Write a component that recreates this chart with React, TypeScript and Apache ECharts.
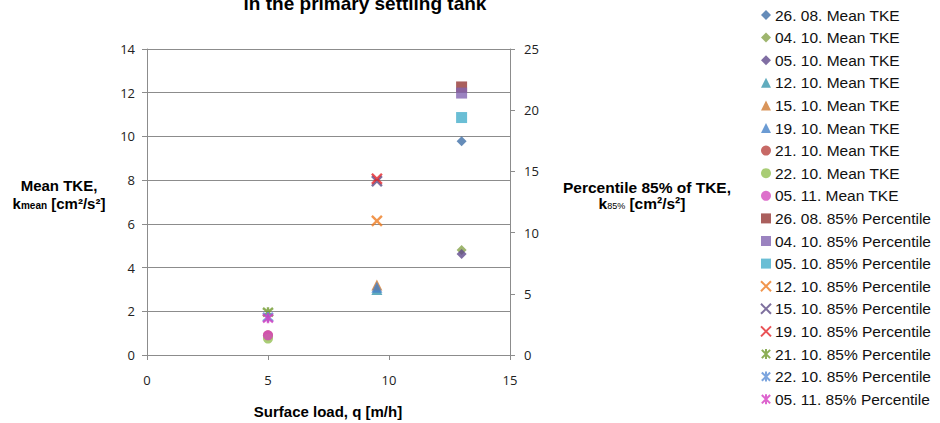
import React, { useEffect, useRef } from "react";
import * as echarts from "echarts";

// ---- data ----
const dates = ["26. 08.", "04. 10.", "05. 10.", "12. 10.", "15. 10.", "19. 10.", "21. 10.", "22. 10.", "05. 11."];
const surfaceLoad = [13, 13, 13, 9.5, 9.5, 9.5, 5, 5, 5];
const meanTKE = [9.78, 4.8, 4.62, 3.0, 3.2, 3.1, 0.9, 0.75, 0.9];
const percentile85 = [21.9, 21.4, 19.4, 10.95, 14.2, 14.4, 3.5, 3.1, 3.0];

const xAxisRange = { min: 0, max: 15, interval: 5 };
const leftAxisRange = { min: 0, max: 14, interval: 2 };
const rightAxisRange = { min: 0, max: 25, interval: 5 };

const titleText = "in the primary settling tank";
const xAxisTitle = "Surface load, q [m/h]";

// ---- styles ----
const X_PATH = "path://M0,0L10,10M10,0L0,10";
const STAR_PATH = "path://M0,0L10,10M10,0L0,10M5,-1L5,11";

const meanSymbols = ["diamond", "diamond", "diamond", "triangle", "triangle", "triangle", "circle", "circle", "circle"];
const meanColors = ["#3F6FA8", "#86A34A", "#604A8C", "#3A97AE", "#D07A32", "#4682C8", "#B94440", "#93C152", "#D44CBE"];
const meanSizes = [10, 10, 10, 11, 11, 11, 10, 10, 10];

const pctSymbols = ["rect", "rect", "rect", X_PATH, X_PATH, X_PATH, STAR_PATH, STAR_PATH, STAR_PATH];
const pctColors = ["#953735", "#8264B0", "#45AECA", "#EE7C22", "#5E4C86", "#E4252A", "#6F9A2C", "#5B8FD6", "#D43DC2"];
const pctSizes = [11, 11, 11, 10, 10, 10, 10, 10, 10];

const FONT = "'Liberation Sans', Arial, sans-serif";
const TICK_FONT = "'Open Sans', 'Noto Sans', sans-serif";

export default function App() {
  const ref = useRef<HTMLDivElement>(null);

  useEffect(() => {
    if (!ref.current) return;
    const chart = echarts.init(ref.current, undefined, { renderer: "svg" });

    const series: any[] = [];
    dates.forEach((d, i) => {
      series.push({
        name: `${d} Mean TKE`,
        type: "scatter",
        xAxisIndex: 0,
        yAxisIndex: 0,
        symbol: meanSymbols[i],
        symbolSize: meanSizes[i],
        itemStyle: { color: meanColors[i] },
        data: [[surfaceLoad[i], meanTKE[i]]],
      });
    });
    dates.forEach((d, i) => {
      const stroked = i >= 3;
      series.push({
        name: `${d} 85% Percentile`,
        type: "scatter",
        xAxisIndex: 0,
        yAxisIndex: 1,
        symbol: pctSymbols[i],
        symbolSize: pctSizes[i],
        itemStyle: stroked
          ? { color: pctColors[i], borderColor: pctColors[i], borderWidth: 2.4 }
          : { color: pctColors[i] },
        data: [[surfaceLoad[i], percentile85[i]]],
      });
    });

    const axisLine = { show: true, lineStyle: { color: "#8C8C8C", width: 1 } };
    const axisTick = { show: true, length: 5, inside: false, lineStyle: { color: "#8C8C8C" } };
    const axisLabel = { color: "#222", fontSize: 13, fontFamily: TICK_FONT };

    chart.setOption({
      animation: false,
      backgroundColor: "#fff",
      grid: { left: 147, right: 430, top: 49, bottom: 68, containLabel: false },
      xAxis: {
        type: "value",
        ...xAxisRange,
        axisLine,
        axisTick,
        splitLine: { show: false },
        axisLabel: { ...axisLabel, margin: 18 },
      },
      yAxis: [
        {
          type: "value",
          position: "left",
          ...leftAxisRange,
          axisLine,
          axisTick,
          splitLine: { show: true, lineStyle: { color: "#8C8C8C", width: 1 } },
          axisLabel: { ...axisLabel, margin: 12 },
        },
        {
          type: "value",
          position: "right",
          ...rightAxisRange,
          axisLine,
          axisTick,
          splitLine: { show: false },
          axisLabel: { ...axisLabel, margin: 14 },
        },
      ],
      legend: {
        orient: "vertical",
        left: 755,
        top: 2,
        itemWidth: 10,
        itemHeight: 10,
        itemGap: 6.6,
        textStyle: { fontSize: 15.5, fontFamily: FONT, color: "#111", padding: [1, 0, 0, -1] },
        data: series.map((s) => s.name),
      },
      series,
      graphic: [
        {
          type: "text",
          style: {
            text: titleText,
            x: 365,
            y: 3,
            textAlign: "center",
            textVerticalAlign: "middle",
            font: `bold 19px ${FONT}`,
            fill: "#000",
          },
        },
        {
          type: "text",
          style: {
            text: "Mean TKE,",
            x: 59,
            y: 185,
            textAlign: "center",
            textVerticalAlign: "middle",
            font: `bold 15px ${FONT}`,
            fill: "#000",
          },
        },
        {
          type: "text",
          style: {
            text: "{a|k}{s|mean}{a| [cm²/s²]}",
            x: 59,
            y: 203,
            textAlign: "center",
            textVerticalAlign: "middle",
            rich: {
              a: { font: `bold 15px ${FONT}`, fill: "#000", lineHeight: 16 },
              s: { font: `bold 10px ${FONT}`, fill: "#000", lineHeight: 12, padding: [5, 0, 0, 0] },
            },
          },
        },
        {
          type: "text",
          style: {
            text: "Percentile 85% of TKE,",
            x: 647,
            y: 187,
            textAlign: "center",
            textVerticalAlign: "middle",
            font: `bold 15.5px ${FONT}`,
            fill: "#000",
          },
        },
        {
          type: "text",
          style: {
            text: "{a|k}{s|85%}{a| [cm²/s²]}",
            x: 642,
            y: 203,
            textAlign: "center",
            textVerticalAlign: "middle",
            rich: {
              a: { font: `bold 15.5px ${FONT}`, fill: "#000", lineHeight: 16 },
              s: { font: `9px ${FONT}`, fill: "#000", lineHeight: 12, padding: [5, 0, 0, 0] },
            },
          },
        },
        {
          type: "text",
          style: {
            text: xAxisTitle,
            x: 328,
            y: 411,
            textAlign: "center",
            textVerticalAlign: "middle",
            font: `bold 15px ${FONT}`,
            fill: "#000",
          },
        },
      ],
    });

    return () => chart.dispose();
  }, []);

  return (
    <div
      ref={ref}
      style={{ position: "fixed", left: 0, top: 0, width: 940, height: 423, background: "#fff" }}
    />
  );
}
